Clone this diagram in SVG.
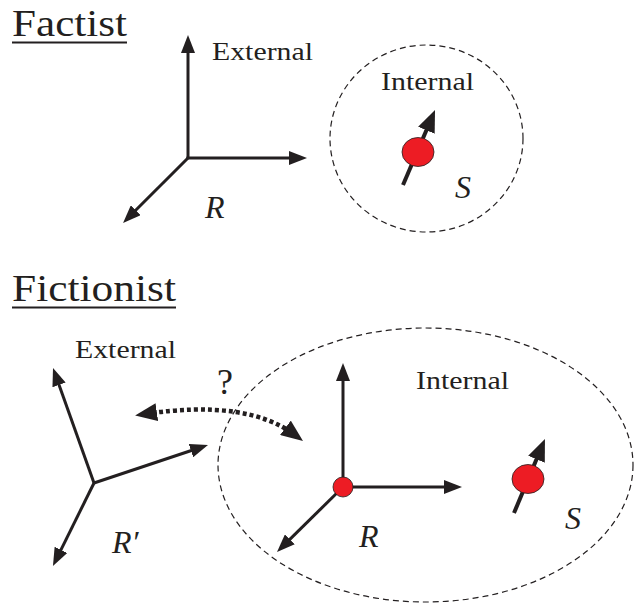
<svg xmlns="http://www.w3.org/2000/svg" width="639" height="603" viewBox="0 0 639 603">
<style>
text{fill:#231f20;font-family:"Times New Roman","Liberation Serif","DejaVu Serif",Times,serif}
.i{font-style:italic}
.ax{stroke:#231f20;stroke-width:3;fill:none}
.sp{stroke:#231f20;stroke-width:4;fill:none}
.dash{stroke:#231f20;stroke-width:1.2;fill:none;stroke-dasharray:6 4}
.dot{stroke:#231f20;stroke-width:4.5;fill:none;stroke-dasharray:4 3}
.red{fill:#ed1c24;stroke:#231f20;stroke-width:0.8}
</style>
<defs>
<marker id="ah" markerUnits="userSpaceOnUse" viewBox="0 0 18 14" markerWidth="18" markerHeight="14" refX="10" refY="7" orient="auto"><path d="M0,0 L18,7 L0,14 z" fill="#231f20"/></marker>
<marker id="ahb" markerUnits="userSpaceOnUse" viewBox="0 0 22 18" markerWidth="22" markerHeight="18" refX="12" refY="9" orient="auto-start-reverse"><path d="M0,0 L22,9 L0,18 z" fill="#231f20"/></marker>
</defs>

<g id="title-factist">
<text x="12" y="36" font-size="38" textLength="115" lengthAdjust="spacingAndGlyphs">Factist</text>
<line x1="12" y1="42.5" x2="127" y2="42.5" stroke="#231f20" stroke-width="2"/>
</g>
<g id="title-fictionist">
<text x="12" y="301" font-size="38" textLength="164" lengthAdjust="spacingAndGlyphs">Fictionist</text>
<line x1="12" y1="307.5" x2="176" y2="307.5" stroke="#231f20" stroke-width="2"/>
</g>

<g id="system-top">
<ellipse class="dash" cx="426.5" cy="138.5" rx="96.5" ry="93.5"/>
<text x="381" y="90" font-size="26" textLength="93" lengthAdjust="spacingAndGlyphs">Internal</text>
<text class="i" x="455" y="198" font-size="32">S</text>
</g>
<g id="spin-top">
<line class="sp" x1="403" y1="185" x2="431.1" y2="119.2" marker-end="url(#ahb)"/>
<ellipse class="red" cx="418" cy="152" rx="16" ry="14.5"/>
</g>
<g id="frame-R-top">
<text x="212" y="60" font-size="26" textLength="101" lengthAdjust="spacingAndGlyphs">External</text>
<text class="i" x="205" y="218" font-size="32">R</text>
</g>

<g id="system-bottom">
<ellipse class="dash" cx="425.5" cy="465" rx="207.5" ry="137"/>
<text x="416" y="389" font-size="26" textLength="93" lengthAdjust="spacingAndGlyphs">Internal</text>
<text class="i" x="565" y="529" font-size="32">S</text>
</g>
<g id="spin-bottom">
<line class="sp" x1="514" y1="513" x2="541.1" y2="448.2" marker-end="url(#ahb)"/>
<ellipse class="red" cx="528" cy="479" rx="16" ry="14.5"/>
</g>
<g id="frame-Rprime">
<text x="75" y="358" font-size="26" textLength="101" lengthAdjust="spacingAndGlyphs">External</text>
<text class="i" x="112" y="553" font-size="32">R′</text>
</g>
<g id="frame-R-bottom">
<text class="i" x="359" y="547" font-size="32">R</text>
</g>
<g id="question">
<text x="217" y="394" font-size="36">?</text>
</g>

<g id="connectors">
<line class="ax" x1="188" y1="158" x2="188" y2="43" marker-end="url(#ah)"/>
<line class="ax" x1="186.5" y1="158" x2="299" y2="158" marker-end="url(#ah)"/>
<line class="ax" x1="188" y1="158" x2="128.7" y2="217.3" marker-end="url(#ah)"/>

<line class="ax" x1="94" y1="483" x2="55.7" y2="375.5" marker-end="url(#ah)"/>
<line class="ax" x1="94" y1="483" x2="200.4" y2="447.5" marker-end="url(#ah)"/>
<line class="ax" x1="94" y1="483" x2="56.5" y2="558.8" marker-end="url(#ah)"/>

<line class="ax" x1="343" y1="487" x2="343" y2="371" marker-end="url(#ah)"/>
<line class="ax" x1="343" y1="487" x2="454" y2="487" marker-end="url(#ah)"/>
<line class="ax" x1="343" y1="487" x2="282.7" y2="546.4" marker-end="url(#ah)"/>

<path class="dot" d="M145,414 Q246.7,398.8 295,435" marker-start="url(#ahb)" marker-end="url(#ahb)"/>
</g>
<g id="origin-dot">
<circle class="red" cx="343" cy="487" r="10"/>
</g>
</svg>
